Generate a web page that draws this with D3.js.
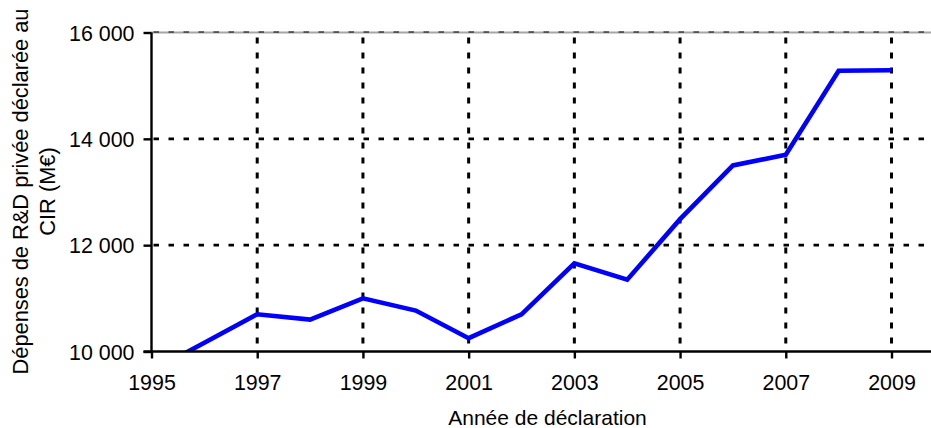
<!DOCTYPE html>
<html>
<head>
<meta charset="utf-8">
<script src="https://cdn.jsdelivr.net/npm/d3@7"></script>
<style>
  html, body { margin: 0; padding: 0; background: #fff; }
  svg { display: block; font-family: "Liberation Sans", Arial, sans-serif; }
</style>
</head>
<body>
<svg id="chart" width="931" height="428"></svg>
<script>
// ---- Data ----
const years  = [1995, 1996, 1997, 1998, 1999, 2000, 2001, 2002, 2003, 2004, 2005, 2006, 2007, 2008, 2009];
const values = [9630, 10165, 10700, 10600, 11000, 10770, 10250, 10700, 11660, 11350, 12490, 13500, 13700, 15280, 15290];
const xTickYears = [1995, 1997, 1999, 2001, 2003, 2005, 2007, 2009];
const yTickValues = [10000, 12000, 14000, 16000];
const xTitle = "Année de déclaration";
const yTitleLines = ["Dépenses de R&D privée déclarée au", "CIR (M€)"];

(function () {
// ---- Layout ----
const pLeft = 151.5, pRight = 931, pTop = 32.5, pBottom = 351.5;

const svg = d3.select("#chart");

const x = d3.scaleLinear().domain([1995, 2009]).range([pLeft, 891.5]);
const y = d3.scaleLinear().domain([10000, 16000]).range([pBottom, pTop]);

const fmt = v => d3.format(",")(v).replace(/,/g, " ");

// Horizontal gridlines
const hGrid = svg.append("g");
hGrid.append("line")
  .attr("x1", pLeft).attr("x2", pRight)
  .attr("y1", y(16000)).attr("y2", y(16000))
  .attr("stroke", "#a6a6a6").attr("stroke-width", 2.2);
hGrid.selectAll("line.hg")
  .data(yTickValues.filter(v => v > 10000))
  .enter().append("line")
  .attr("class", "hg")
  .attr("x1", pLeft).attr("x2", pRight)
  .attr("y1", d => y(d) + (d === 16000 ? -0.5 : 0))
  .attr("y2", d => y(d) + (d === 16000 ? -0.5 : 0))
  .attr("stroke", "#000")
  .attr("stroke-width", d => d === 16000 ? 1.2 : 2.6)
  .attr("stroke-dasharray", "5.5,9.5")
  .attr("stroke-dashoffset", -2);

// Vertical gridlines
svg.append("g").selectAll("line")
  .data(xTickYears.filter(v => v > 1995))
  .enter().append("line")
  .attr("x1", d => x(d)).attr("x2", d => x(d))
  .attr("y1", pTop).attr("y2", pBottom)
  .attr("stroke", "#000")
  .attr("stroke-width", 3)
  .attr("stroke-dasharray", "6,9")
  .attr("stroke-dashoffset", -5);

// Clip for the series line
svg.append("clipPath").attr("id", "plotClip")
  .append("rect").attr("x", pLeft).attr("y", 0)
  .attr("width", pRight - pLeft).attr("height", pBottom);

const line = d3.line()
  .x((d, i) => x(years[i]))
  .y(d => y(d));

svg.append("path")
  .datum(values)
  .attr("clip-path", "url(#plotClip)")
  .attr("fill", "none")
  .attr("stroke", "#0000ff")
  .attr("stroke-width", 4.6)
  .attr("stroke-linejoin", "miter")
  .attr("d", line);

// Y axis
const yAxis = svg.append("g")
  .attr("transform", `translate(${pLeft},0)`)
  .call(d3.axisLeft(y).tickValues(yTickValues).tickSize(8).tickFormat(fmt));
yAxis.select(".domain").attr("stroke", "#000").attr("stroke-width", 2.4)
  .attr("d", `M0,${pTop}V${pBottom + 1}`);
yAxis.selectAll(".tick line").attr("stroke", "#000").attr("stroke-width", 2.4);
yAxis.selectAll(".tick text")
  .attr("x", -17)
  .attr("dy", "0.35em")
  .style("font-size", "21.4px")
  .style("font-family", "'Liberation Sans', Arial, sans-serif")
  .attr("fill", "#000");

// X axis
const xAxis = svg.append("g")
  .attr("transform", `translate(0,${pBottom})`)
  .call(d3.axisBottom(x).tickValues(xTickYears).tickSize(7).tickFormat(d3.format("d")));
xAxis.select(".domain").attr("stroke", "#000").attr("stroke-width", 2.6)
  .attr("d", `M${pLeft - 8},0H${pRight}`);
xAxis.selectAll(".tick line").attr("stroke", "#000").attr("stroke-width", 2.4);
xAxis.selectAll(".tick text")
  .attr("y", 38.8)
  .attr("dy", "0")
  .style("font-size", "21.4px")
  .style("font-family", "'Liberation Sans', Arial, sans-serif")
  .attr("fill", "#000");

// X title
svg.append("text")
  .attr("x", 547.5).attr("y", 425)
  .attr("text-anchor", "middle")
  .style("font-size", "21px")
  .attr("fill", "#000")
  .text(xTitle);

// Y title (two lines, rotated)
const yt = svg.append("text")
  .attr("transform", "translate(0,191.5) rotate(-90)")
  .attr("text-anchor", "middle")
  .style("font-size", "21.8px")
  .attr("fill", "#000");
yt.selectAll("tspan").data(yTitleLines).enter().append("tspan")
  .attr("x", 0)
  .attr("y", (d, i) => 27.8 + i * 27)
  .text(d => d);
})();
</script>
</body>
</html>
